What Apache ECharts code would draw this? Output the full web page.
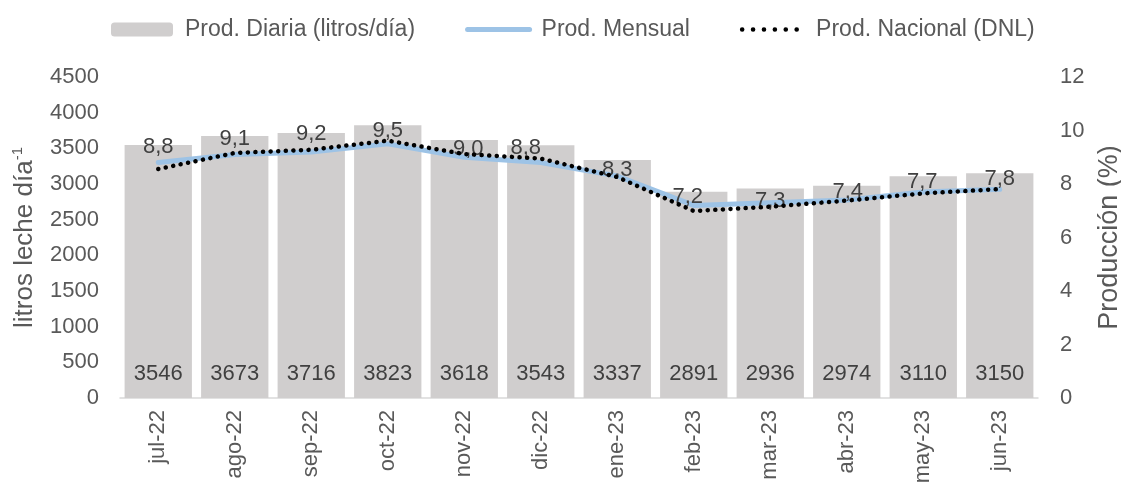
<!DOCTYPE html>
<html>
<head>
<meta charset="utf-8">
<script src="https://cdn.jsdelivr.net/npm/echarts@6/dist/echarts.min.js"></script>
<style>
  html, body { margin: 0; padding: 0; background: #ffffff; }
  #chart { width: 1121px; height: 484px; }
</style>
</head>
<body>
<div id="chart"></div>
<script>
// Monthly categories
const months = ['jul-22', 'ago-22', 'sep-22', 'oct-22', 'nov-22', 'dic-22',
                'ene-23', 'feb-23', 'mar-23', 'abr-23', 'may-23', 'jun-23'];
// Daily milk production (litros/día)
const prodDiaria = [3546, 3673, 3716, 3823, 3618, 3543, 3337, 2891, 2936, 2974, 3110, 3150];
// Monthly production share (%)
const prodMensual = [8.8, 9.1, 9.2, 9.5, 9.0, 8.8, 8.3, 7.2, 7.3, 7.4, 7.7, 7.8];
// National production share (DNL, %)
const prodNacional = [8.56, 9.16, 9.28, 9.62, 9.12, 8.95, 8.26, 6.99, 7.15, 7.38, 7.65, 7.81];

// Per-label pixel nudges [dx, dy] for the monthly share labels
const labelNudge = [[0, 0], [0, 0], [0, -2], [0, 3], [4, 7], [-15, 1],
                    [0, 9], [-6, 7], [0, 14], [1, 7], [-1, 5], [0, 5]];

const textColor = '#595959';
const labelColor = '#404040';
const fontFamily = '"Liberation Sans", Arial, sans-serif';
const fmtComma = v => String(v).replace('.', ',');

const chart = echarts.init(document.getElementById('chart'));
chart.setOption({
  animation: false,
  textStyle: { fontFamily: fontFamily },
  legend: {
    top: 13,
    left: 106,
    itemGap: 50,
    itemWidth: 62,
    itemHeight: 14,
    textStyle: { fontSize: 23, color: textColor, fontFamily: fontFamily, padding: [0, 0, 0, 7] },
    data: [
      { name: 'Prod. Diaria (litros/día)' },
      { name: 'Prod. Mensual', itemStyle: { opacity: 0 }, lineStyle: { width: 5, cap: 'round' } },
      { name: 'Prod. Nacional (DNL)', itemStyle: { opacity: 0 },
        lineStyle: { width: 4.5, type: [0.1, 10.8], cap: 'round' } }
    ]
  },
  grid: { left: 120, right: 83, top: 77, bottom: 86, outerBoundsMode: 'none', containLabel: false },
  xAxis: {
    type: 'category',
    data: months,
    axisTick: { show: false },
    axisLine: { lineStyle: { color: '#d9d9d9', width: 1.5 } },
    axisLabel: { rotate: 90, fontSize: 22, color: textColor, margin: 12 }
  },
  yAxis: [
    {
      type: 'value',
      min: 0, max: 4500, interval: 500,
      splitLine: { show: false },
      axisLine: { show: false },
      axisTick: { show: false },
      axisLabel: { fontSize: 22, color: textColor, margin: 21, formatter: v => String(v) },
      name: 'litros leche día{sup|-1}',
      nameLocation: 'middle',
      nameGap: 81,
      nameRotate: 90,
      nameTextStyle: {
        fontSize: 26, color: textColor,
        rich: { sup: { fontSize: 15, color: textColor, verticalAlign: 'bottom', padding: [0, 0, 14, 0] } }
      }
    },
    {
      type: 'value',
      min: 0, max: 12, interval: 2,
      splitLine: { show: false },
      axisLine: { show: false },
      axisTick: { show: false },
      axisLabel: { fontSize: 22, color: textColor, margin: 22 },
      name: 'Producción (%)',
      nameLocation: 'middle',
      nameGap: 58,
      nameRotate: 90,
      nameTextStyle: { fontSize: 27, color: textColor }
    }
  ],
  series: [
    {
      name: 'Prod. Diaria (litros/día)',
      type: 'bar',
      data: prodDiaria,
      barCategoryGap: '12%',
      itemStyle: { color: '#d0cece' },
      label: {
        show: true,
        position: 'insideBottom',
        distance: 13,
        fontSize: 22,
        color: labelColor
      }
    },
    {
      name: 'Prod. Mensual',
      type: 'line',
      yAxisIndex: 1,
      data: prodMensual,
      symbol: 'circle',
      symbolSize: 1,
      showSymbol: true,
      lineStyle: { color: '#9dc3e6', width: 5, cap: 'round' },
      itemStyle: { color: '#9dc3e6' },
      label: {
        show: true,
        position: 'top',
        distance: 4,
        fontSize: 22,
        color: labelColor,
        formatter: p => fmtComma(p.value.toFixed(1))
      },
      labelLayout: p => ({
        dx: labelNudge[p.dataIndex][0],
        dy: labelNudge[p.dataIndex][1],
        hideOverlap: false
      }),
      z: 3
    },
    {
      name: 'Prod. Nacional (DNL)',
      type: 'line',
      yAxisIndex: 1,
      data: prodNacional,
      symbol: 'none',
      lineStyle: { color: '#000000', width: 4.5, type: [0.1, 7.5], cap: 'round' },
      itemStyle: { color: '#000000' },
      z: 4
    }
  ]
});
</script>
</body>
</html>
